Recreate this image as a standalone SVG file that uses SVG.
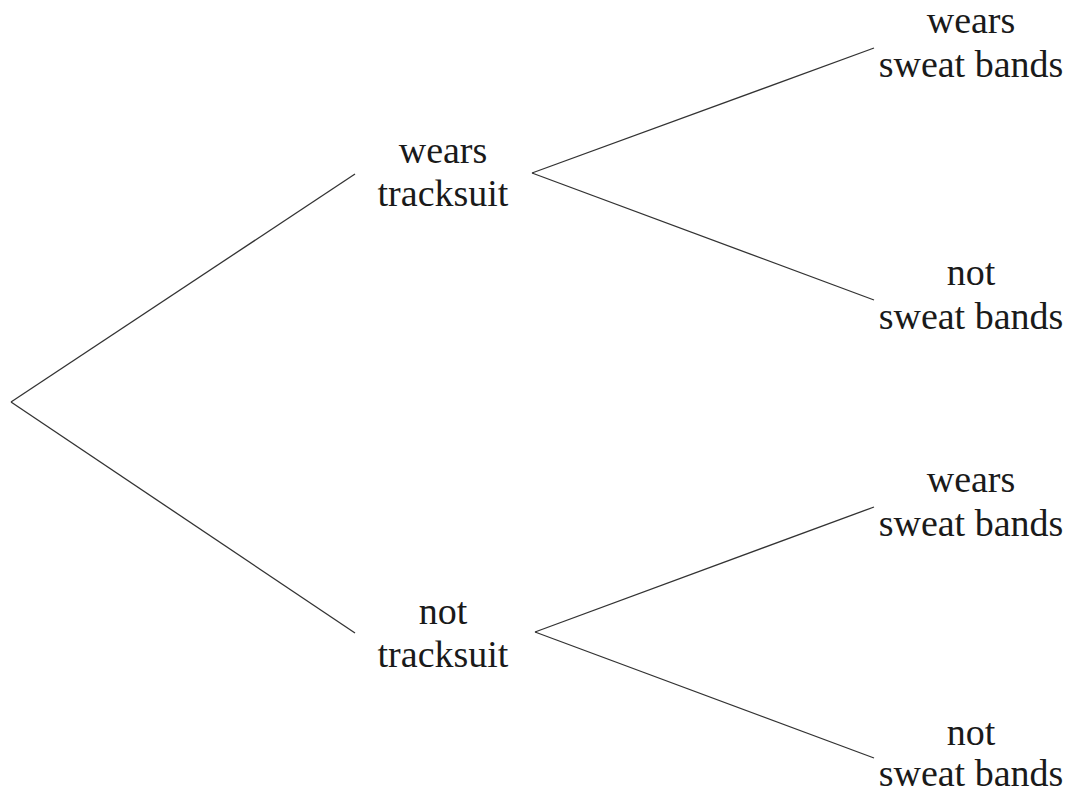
<svg xmlns="http://www.w3.org/2000/svg" width="1073" height="794" viewBox="0 0 1073 794">
<style>
.l{stroke:#333;stroke-width:1.3;fill:none}
text{font-family:"Liberation Serif","Times New Roman",serif;font-size:38px;fill:#1a1a1a;text-anchor:middle}
</style>
<rect width="1073" height="794" fill="#fff"/>
<g id="connectors">
<line class="l" x1="11" y1="402" x2="355" y2="174"/>
<line class="l" x1="11" y1="402" x2="355" y2="633"/>
<line class="l" x1="532" y1="173" x2="874" y2="48"/>
<line class="l" x1="532" y1="173" x2="874" y2="300"/>
<line class="l" x1="535" y1="632" x2="874" y2="507"/>
<line class="l" x1="535" y1="632" x2="874" y2="758"/>
</g>
<g id="wears-tracksuit"><text x="443" y="163">wears</text><text x="443" y="206">tracksuit</text></g>
<g id="not-tracksuit"><text x="443" y="624">not</text><text x="443" y="667">tracksuit</text></g>
<g id="wears-sweat-1"><text x="971" y="33">wears</text><text x="971" y="77">sweat bands</text></g>
<g id="not-sweat-1"><text x="971" y="285">not</text><text x="971" y="329">sweat bands</text></g>
<g id="wears-sweat-2"><text x="971" y="492">wears</text><text x="971" y="536">sweat bands</text></g>
<g id="not-sweat-2"><text x="971" y="745">not</text><text x="971" y="786">sweat bands</text></g>
</svg>
